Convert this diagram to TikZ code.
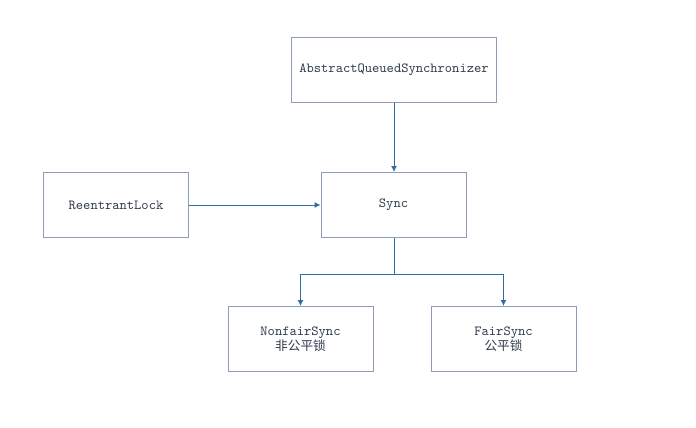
\documentclass[tikz,border=0pt]{standalone}
\usepackage{fontspec}
\newfontfamily\cjk{Noto Sans CJK SC}
\usetikzlibrary{arrows.meta}
\definecolor{boxline}{HTML}{8E9DB5}
\definecolor{arrowc}{HTML}{2E6DA4}
\definecolor{txt}{HTML}{2F3A4A}
\begin{document}
\begin{tikzpicture}[x=0.75pt,y=-0.75pt,
  box/.style={draw=boxline,line width=0.75pt,minimum width=145*0.75pt,minimum height=65*0.75pt,
    inner sep=0pt,align=center,text=txt,font=\fontsize{10.4}{12}\ttfamily},
  conn/.style={draw=arrowc,line width=0.75pt,-{Latex[length=4.5pt,width=4.5pt]}}]
\useasboundingbox (0,0) rectangle (696,428);
\node[box,minimum width=205*0.75pt] (aqs) at (394,70) {AbstractQueuedSynchronizer};
\node[box] (rl) at (116,205) {ReentrantLock};
\node[box] (sync) at (393.5,205) {Sync};
\node[box] (nf) at (300.5,339) {NonfairSync\\[-1pt]{\cjk\fontsize{9.5}{11}\selectfont 非公平锁}};
\node[box] (fs) at (503.5,339) {FairSync\\[-1pt]{\cjk\fontsize{9.5}{11}\selectfont 公平锁}};
\coordinate (br) at (394,274);
\draw[conn] (aqs.south -| 394,0) -- (sync.north -| 394,0);
\draw[conn] (rl.east) -- (sync.west);
\draw[conn] (sync.south -| br) -- (br) -| (nf.north);
\draw[conn] (br) -| (fs.north);
\end{tikzpicture}
\end{document}
